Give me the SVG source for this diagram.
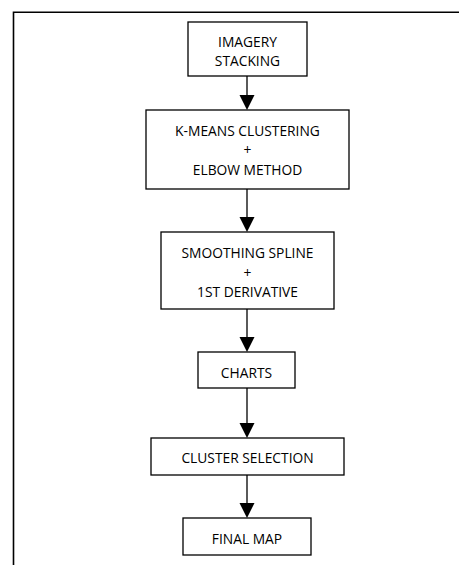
<svg xmlns="http://www.w3.org/2000/svg" width="459" height="565" viewBox="0 0 459 565">
<defs>
<style>
.box{fill:#fff;stroke:#000;stroke-width:1.3}
.t{font-family:"Open Sans","Liberation Sans",sans-serif;font-size:13.8px;fill:#000;text-anchor:middle}
.frame{fill:none;stroke:#000;stroke-width:1.6}
.c{stroke:#000;stroke-width:1.3;fill:none}
.ah{fill:#000}
</style>
</defs>
<rect width="459" height="565" fill="#fff"/>
<path class="frame" d="M13.5,565 V12.2 H459"/>
<g id="connectors">
<line class="c" x1="247" y1="76" x2="247" y2="96"/>
<polygon class="ah" points="239.5,95 254.5,95 247,110"/>
<line class="c" x1="247" y1="189" x2="247" y2="218"/>
<polygon class="ah" points="239.5,217 254.5,217 247,232"/>
<line class="c" x1="247" y1="309" x2="247" y2="338"/>
<polygon class="ah" points="239.5,337 254.5,337 247,352"/>
<line class="c" x1="247" y1="388" x2="247" y2="424"/>
<polygon class="ah" points="239.5,423 254.5,423 247,438"/>
<line class="c" x1="247" y1="475" x2="247" y2="504"/>
<polygon class="ah" points="239.5,503 254.5,503 247,518"/>
</g>
<g id="n1"><rect class="box" x="188" y="22" width="119" height="54"/>
<text class="t" x="247.5" y="47">IMAGERY</text><text class="t" x="247.5" y="66">STACKING</text></g>
<g id="n2"><rect class="box" x="146" y="110" width="203" height="79"/>
<text class="t" x="247.5" y="136">K-MEANS CLUSTERING</text><text class="t" x="247.5" y="155">+</text><text class="t" x="247.5" y="175">ELBOW METHOD</text></g>
<g id="n3"><rect class="box" x="161" y="232" width="173" height="77"/>
<text class="t" x="247.5" y="258">SMOOTHING SPLINE</text><text class="t" x="247.5" y="278">+</text><text class="t" x="247.5" y="297">1ST DERIVATIVE</text></g>
<g id="n4"><rect class="box" x="198" y="352" width="97" height="36"/>
<text class="t" x="246.5" y="378">CHARTS</text></g>
<g id="n5"><rect class="box" x="151" y="438" width="193" height="37"/>
<text class="t" x="247.5" y="463">CLUSTER SELECTION</text></g>
<g id="n6"><rect class="box" x="183" y="518" width="128" height="37"/>
<text class="t" x="247" y="544">FINAL MAP</text></g>
</svg>
